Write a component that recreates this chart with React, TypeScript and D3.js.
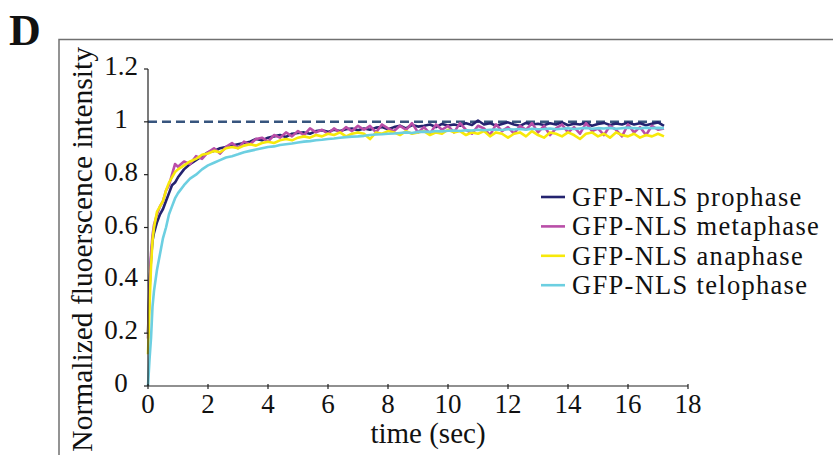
import React from "react";
import { scaleLinear, line } from "d3";

// time points (sec)
const times = [
  0, 0.05, 0.1, 0.15, 0.2, 0.3, 0.4, 0.5, 0.6, 0.7, 0.8, 0.9, 1.0,
  1.2, 1.4, 1.6, 1.8, 2.0, 2.2, 2.4, 2.6, 2.8, 3.0, 3.2, 3.4, 3.6, 3.8, 4.0,
  4.2, 4.4, 4.6, 4.8, 5.0, 5.2, 5.4, 5.6, 5.8, 6.0, 6.2, 6.4, 6.6, 6.8, 7.0,
  7.2, 7.4, 7.6, 7.8, 8.0, 8.2, 8.4, 8.6, 8.8, 9.0, 9.2, 9.4, 9.6, 9.8, 10.0,
  10.2, 10.4, 10.6, 10.8, 11.0, 11.2, 11.4, 11.6, 11.8, 12.0, 12.2, 12.4, 12.6, 12.8, 13.0,
  13.2, 13.4, 13.6, 13.8, 14.0, 14.2, 14.4, 14.6, 14.8, 15.0, 15.2, 15.4, 15.6, 15.8, 16.0,
  16.2, 16.4, 16.6, 16.8, 17.0, 17.2,
];

const prophase = [
  0.2, 0.38, 0.48, 0.55, 0.58, 0.62, 0.65, 0.67, 0.7, 0.73, 0.76, 0.77, 0.79,
  0.82, 0.84, 0.855, 0.87, 0.885, 0.89, 0.9, 0.905, 0.91, 0.915,
  0.92, 0.925, 0.935, 0.93, 0.94, 0.945, 0.95, 0.943, 0.955, 0.958,
  0.96, 0.955, 0.965, 0.968, 0.962, 0.97, 0.965, 0.972, 0.975, 0.968,
  0.975, 0.97, 0.978, 0.98, 0.972, 0.98, 0.985, 0.975, 0.988, 0.982,
  0.985, 0.99, 0.98, 0.992, 0.986, 0.99, 0.985, 0.995, 0.988, 1.005,
  0.99, 0.995, 0.985, 0.992, 0.998, 0.99, 0.985, 0.996, 0.99, 0.993,
  0.988, 0.995, 0.99, 0.998, 0.987, 0.993, 0.99, 0.997, 0.985, 0.992,
  0.996, 0.988, 0.994, 0.99, 0.997, 0.99, 0.995, 0.987, 0.993, 0.998, 0.985,
];

const metaphase = [
  0.18, 0.36, 0.5, 0.57, 0.61, 0.65, 0.68, 0.7, 0.74, 0.76, 0.8, 0.84, 0.83,
  0.85, 0.84, 0.87, 0.86, 0.885, 0.9, 0.88, 0.905, 0.92, 0.9,
  0.925, 0.915, 0.935, 0.94, 0.925, 0.95, 0.94, 0.96, 0.945, 0.965,
  0.95, 0.975, 0.96, 0.97, 0.955, 0.975, 0.96, 0.98, 0.965, 0.985,
  0.97, 0.985, 0.96, 0.99, 0.975, 0.965, 0.985, 0.97, 0.995, 0.96,
  0.98, 0.955, 0.99, 0.97, 0.985, 0.96, 0.995, 0.97, 0.955, 0.985,
  0.975, 0.95, 0.99, 0.965, 0.98, 0.955, 0.985, 0.97, 0.995, 0.96,
  0.985, 0.95, 0.975, 0.99, 0.96, 0.98, 0.955, 0.995, 0.965, 0.975,
  0.95, 0.985, 0.97, 0.945, 0.99, 0.96, 0.98, 0.95, 0.985, 0.97, 0.975,
];

const anaphase = [
  0.12, 0.3, 0.45, 0.55, 0.6, 0.66, 0.68, 0.7, 0.74, 0.77, 0.79, 0.81, 0.82,
  0.835, 0.85, 0.86, 0.875, 0.88, 0.89, 0.885, 0.9, 0.905, 0.9,
  0.91, 0.915, 0.91, 0.92, 0.925, 0.92, 0.93, 0.935, 0.93, 0.94,
  0.945, 0.94, 0.95, 0.945, 0.955, 0.95, 0.96, 0.945, 0.955, 0.96,
  0.955, 0.935, 0.96, 0.955, 0.965, 0.96, 0.95, 0.965, 0.955, 0.96,
  0.965, 0.95, 0.96, 0.955, 0.97, 0.96, 0.965, 0.95, 0.96, 0.955,
  0.965, 0.945, 0.96, 0.955, 0.94, 0.955, 0.96, 0.945, 0.965, 0.95,
  0.94, 0.96, 0.955, 0.945, 0.96, 0.95, 0.935, 0.955, 0.96, 0.945,
  0.955, 0.94, 0.96, 0.95, 0.945, 0.955, 0.94, 0.95, 0.945, 0.955, 0.945,
];

const telophase = [
  0.0, 0.1, 0.18, 0.3, 0.36, 0.44, 0.5, 0.56, 0.6, 0.65, 0.68, 0.71, 0.73,
  0.76, 0.785, 0.8, 0.82, 0.835, 0.845, 0.855, 0.865, 0.87, 0.877,
  0.885, 0.89, 0.895, 0.9, 0.905, 0.907, 0.912, 0.915, 0.918, 0.922,
  0.925, 0.927, 0.93, 0.932, 0.935, 0.937, 0.94, 0.942, 0.944, 0.945,
  0.947, 0.95, 0.952, 0.953, 0.955, 0.956, 0.958, 0.96, 0.958, 0.962,
  0.963, 0.962, 0.965, 0.964, 0.966, 0.967, 0.965, 0.968, 0.967, 0.97,
  0.968, 0.97, 0.971, 0.969, 0.972, 0.971, 0.973, 0.97, 0.974, 0.972,
  0.973, 0.975, 0.972, 0.974, 0.976, 0.973, 0.975, 0.977, 0.974, 0.976,
  0.975, 0.977, 0.974, 0.976, 0.978, 0.976, 0.975, 0.978, 0.976, 0.977, 0.976,
];

const seriesNames = ["GFP-NLS prophase", "GFP-NLS metaphase", "GFP-NLS anaphase", "GFP-NLS telophase"];
const seriesValues = [prophase, metaphase, anaphase, telophase];
const seriesColors = ["#24236f", "#b94ea8", "#f7e90a", "#6ccfe1"];

const xTicks = [0, 2, 4, 6, 8, 10, 12, 14, 16, 18];
const yTicks = [0, 0.2, 0.4, 0.6, 0.8, 1, 1.2];
const refLevel = 1;

const FONT = "'Liberation Serif', 'Times New Roman', serif";

export default function App() {
  const x = scaleLinear().domain([0, 18]).range([148, 688]);
  const y = scaleLinear().domain([0, 1.2]).range([386, 69]);

  const gen = line<number>()
    .x((_, i) => x(times[i]))
    .y((d) => y(d));

  const tEnd = times[times.length - 1];

  return (
    <svg
      width={833}
      height={455}
      style={{ position: "absolute", left: 0, top: 0, background: "#fff", fontFamily: FONT }}
    >
      {/* panel letter and frame */}
      <text x={9} y={45} fontSize={44} fontWeight="bold" fill="#111">D</text>
      <path d="M59,456 V39.5 H834" fill="none" stroke="#707070" strokeWidth={1.5} />

      {/* reference line */}
      <line
        x1={x(0)}
        x2={x(tEnd)}
        y1={y(refLevel)}
        y2={y(refLevel)}
        stroke="#37557e"
        strokeWidth={2.5}
        strokeDasharray="9 5"
      />

      {/* data */}
      {seriesValues.map((vals, i) => (
        <path
          key={seriesNames[i]}
          d={gen(vals) || ""}
          fill="none"
          stroke={seriesColors[i]}
          strokeWidth={2.6}
          strokeLinejoin="round"
        />
      ))}

      {/* axes */}
      <g stroke="#222" strokeWidth={1.2}>
        <line x1={x(0)} x2={x(0)} y1={y(1.2)} y2={y(0)} />
        <line x1={x(0)} x2={x(18)} y1={y(0)} y2={y(0)} />
        {yTicks.map((t) => (
          <line key={"yt" + t} x1={x(0) - 4} x2={x(0)} y1={y(t)} y2={y(t)} />
        ))}
        {xTicks.map((t) => (
          <line key={"xt" + t} x1={x(t)} x2={x(t)} y1={y(0) - 2} y2={y(0) + 3} />
        ))}
      </g>
      <g fontSize={27} fill="#111" textAnchor="middle">
        {yTicks.map((t) => (
          <text key={"yl" + t} x={x(0) - 27} y={y(t) + 6}>{String(t)}</text>
        ))}
        {xTicks.map((t) => (
          <text key={"xl" + t} x={x(t)} y={y(0) + 27}>{String(t)}</text>
        ))}
      </g>

      {/* axis titles */}
      <text x={428} y={443} fontSize={29} textAnchor="middle" fill="#111">time (sec)</text>
      <text
        transform="translate(92,47) rotate(-90)"
        fontSize={29.5}
        textAnchor="end"
        fill="#111"
      >
        Normalized fluoerscence intensity
      </text>

      {/* legend */}
      {seriesNames.map((name, i) => (
        <g key={"lg" + name} transform={`translate(541,${197 + i * 29.4})`}>
          <line x1={0} x2={24} y1={0} y2={0} stroke={seriesColors[i]} strokeWidth={2.6} />
          <text x={31} y={9} fontSize={26.5} letterSpacing={1.3} fill="#111">{name}</text>
        </g>
      ))}
    </svg>
  );
}
